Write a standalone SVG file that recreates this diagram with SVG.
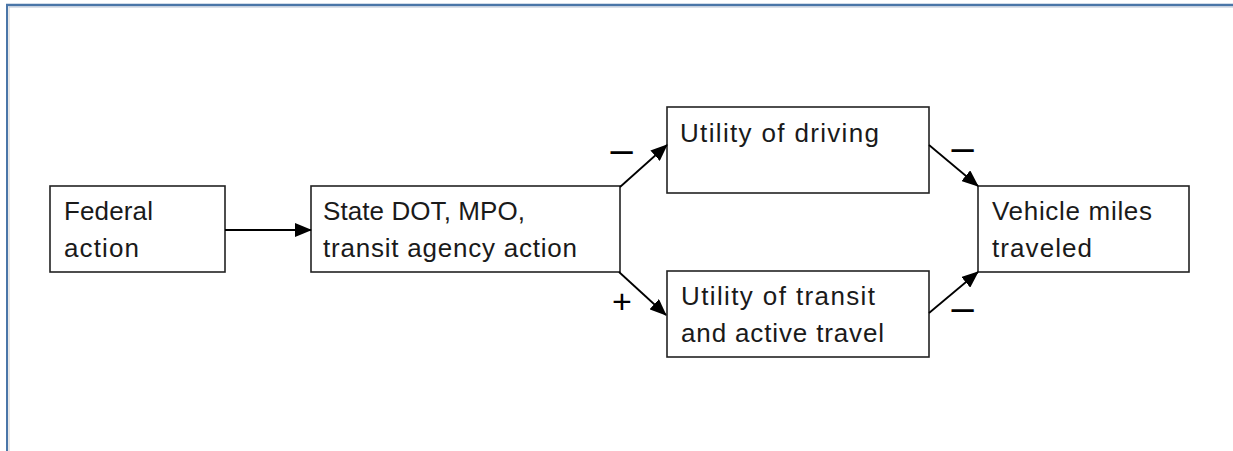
<svg xmlns="http://www.w3.org/2000/svg" width="1233" height="451" viewBox="0 0 1233 451">
<defs>
<marker id="ah" markerWidth="17" markerHeight="14" refX="16" refY="7" orient="auto" markerUnits="userSpaceOnUse">
<path d="M0,0 L17,7 L0,14 Z" fill="#000"/>
</marker>
<style>
.box{fill:#fff;stroke:#222;stroke-width:1.6}
.lbl{font-family:"Liberation Sans",Arial,sans-serif;font-size:26px;fill:#1a1a1a}
.con{fill:none;stroke:#000;stroke-width:1.8}
.sign{font-family:"Liberation Sans",Arial,sans-serif;fill:#000}
</style>
</defs>
<rect width="1233" height="451" fill="#fff"/>
<g id="frame">
<line x1="6" y1="5" x2="1233" y2="5" stroke="#4a76a8" stroke-width="2.5"/>
<line x1="7" y1="5" x2="7" y2="451" stroke="#4a76a8" stroke-width="2"/>
<line x1="9" y1="7" x2="9" y2="451" stroke="#d0d0d0" stroke-width="1"/>
<line x1="9" y1="7" x2="1233" y2="7" stroke="#b8c4d4" stroke-width="1"/>
</g>
<g id="federal">
<rect class="box" x="50" y="186" width="175" height="86"/>
<text class="lbl" x="64" y="220" textLength="89">Federal</text>
<text class="lbl" x="64" y="257" textLength="75">action</text>
</g>
<g id="state">
<rect class="box" x="311" y="186" width="309" height="86"/>
<text class="lbl" x="323" y="220" textLength="202">State DOT, MPO,</text>
<text class="lbl" x="323" y="257" textLength="254">transit agency action</text>
</g>
<g id="driving">
<rect class="box" x="667" y="107" width="262" height="86"/>
<text class="lbl" x="680" y="142" textLength="199">Utility of driving</text>
</g>
<g id="transit">
<rect class="box" x="667" y="271" width="262" height="86"/>
<text class="lbl" x="681" y="305" textLength="194">Utility of transit</text>
<text class="lbl" x="681" y="342" textLength="203">and active travel</text>
</g>
<g id="vmt">
<rect class="box" x="978" y="186" width="211" height="86"/>
<text class="lbl" x="992" y="220" textLength="160">Vehicle miles</text>
<text class="lbl" x="992" y="257" textLength="100">traveled</text>
</g>
<g id="connectors">
<line class="con" x1="225" y1="230" x2="311" y2="230" marker-end="url(#ah)"/>
<line class="con" x1="620" y1="187" x2="667" y2="145" marker-end="url(#ah)"/>
<line class="con" x1="619" y1="272" x2="666" y2="315" marker-end="url(#ah)"/>
<line class="con" x1="929" y1="145" x2="978" y2="186" marker-end="url(#ah)"/>
<line class="con" x1="929" y1="313" x2="978" y2="272" marker-end="url(#ah)"/>
<text class="sign" x="621.5" y="163" font-size="40" text-anchor="middle">–</text>
<text class="sign" x="622" y="313" font-size="34" text-anchor="middle">+</text>
<text class="sign" x="962.5" y="161" font-size="40" text-anchor="middle">–</text>
<text class="sign" x="962.5" y="321" font-size="40" text-anchor="middle">–</text>
</g>
</svg>
